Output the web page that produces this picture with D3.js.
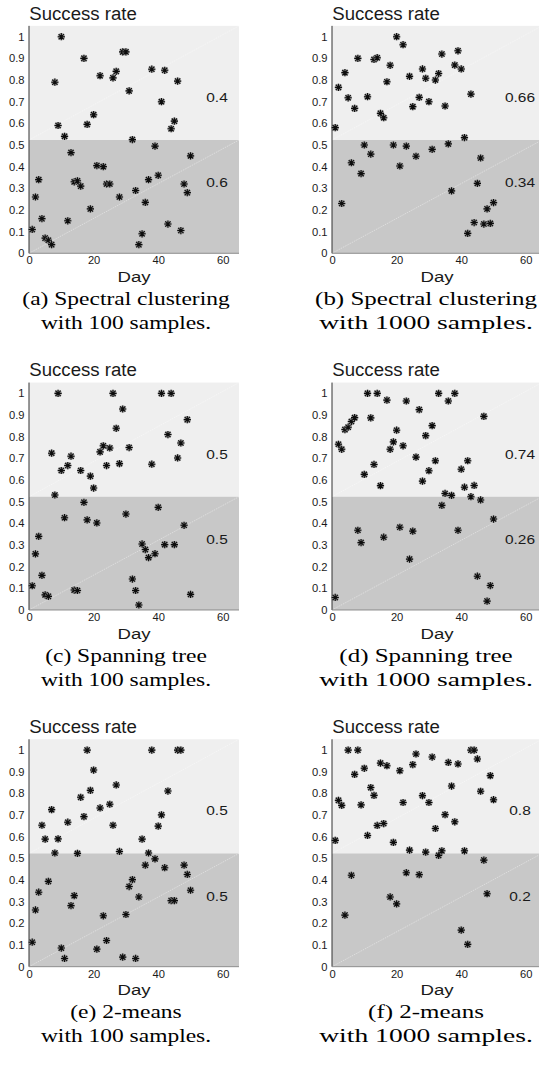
<!DOCTYPE html>
<html>
<head>
<meta charset="utf-8">
<script src="https://cdn.jsdelivr.net/npm/d3@7"></script>
<style>
  body { margin: 0; background: #fff; }
  svg { display: block; }
</style>
</head>
<body>
<svg id="fig" width="539" height="1072"></svg>
<script>
// One point per day: daily success rate for each clustering method.
const days = [1, 2, 3, 4, 5, 6, 7, 8, 9, 10, 11, 12, 13, 14, 15, 16, 17, 18, 19, 20,
  21, 22, 23, 24, 25, 26, 27, 28, 29, 30, 31, 32, 33, 34, 35, 36, 37, 38, 39, 40,
  41, 42, 43, 44, 45, 46, 47, 48, 49, 50];

const spectral100 = [0.11, 0.26, 0.34, 0.16, 0.07, 0.06, 0.04, 0.79, 0.59, 1.0,
  0.54, 0.15, 0.465, 0.33, 0.335, 0.31, 0.9, 0.595, 0.205, 0.64,
  0.405, 0.82, 0.40, 0.32, 0.32, 0.81, 0.84, 0.26, 0.93, 0.93,
  0.75, 0.525, 0.29, 0.04, 0.09, 0.235, 0.34, 0.85, 0.495, 0.36,
  0.70, 0.845, 0.135, 0.575, 0.61, 0.795, 0.105, 0.32, 0.28, 0.45];

const spectral1000 = [0.58, 0.766, 0.23, 0.834, 0.718, 0.418, 0.669, 0.90, 0.368, 0.50,
  0.723, 0.458, 0.895, 0.903, 0.646, 0.626, 0.792, 0.868, 0.50, 1.0,
  0.403, 0.963, 0.495, 0.817, 0.677, 0.448, 0.72, 0.851, 0.808, 0.70,
  0.48, 0.80, 0.83, 0.92, 0.68, 0.505, 0.288, 0.869, 0.935, 0.851,
  0.534, 0.092, 0.735, 0.142, 0.323, 0.44, 0.135, 0.205, 0.138, 0.234];

const tree100 = [0.112, 0.259, 0.34, 0.16, 0.07, 0.063, 0.724, 0.531, 1.0, 0.644,
  0.426, 0.667, 0.71, 0.092, 0.09, 0.644, 0.497, 0.416, 0.618, 0.563,
  0.402, 0.73, 0.758, 0.667, 0.748, 1.0, 0.839, 0.676, 0.928, 0.443,
  0.75, 0.143, 0.09, 0.023, 0.305, 0.279, 0.242, 0.673, 0.26, 0.474,
  1.0, 0.302, 0.81, 1.0, 0.302, 0.702, 0.771, 0.391, 0.879, 0.072];

const tree1000 = [0.058, 0.765, 0.742, 0.833, 0.844, 0.87, 0.888, 0.368, 0.311, 0.626,
  1.0, 0.887, 0.672, 1.0, 0.574, 0.336, 0.969, 0.742, 0.776, 0.83,
  0.382, 0.758, 0.965, 0.235, 0.364, 0.706, 0.925, 0.595, 0.805, 0.643,
  0.851, 0.689, 1.0, 0.483, 0.538, 0.965, 0.529, 1.0, 0.368, 0.65,
  0.567, 0.689, 0.523, 0.575, 0.156, 0.508, 0.894, 0.041, 0.113, 0.42];

const means100 = [0.113, 0.262, 0.344, 0.653, 0.589, 0.394, 0.725, 0.525, 0.59, 0.086,
  0.038, 0.667, 0.282, 0.328, 0.523, 0.782, 0.693, 1.0, 0.814, 0.908,
  0.081, 0.733, 0.235, 0.121, 0.75, 0.653, 0.839, 0.532, 0.044, 0.241,
  0.37, 0.402, 0.038, 0.322, 0.589, 0.469, 0.525, 1.0, 0.498, 0.649,
  0.701, 0.457, 0.811, 0.305, 0.305, 1.0, 1.0, 0.469, 0.426, 0.353];

const means1000 = [0.583, 0.768, 0.745, 0.238, 1.0, 0.422, 0.888, 1.0, 0.747, 0.916,
  0.606, 0.827, 0.791, 0.652, 0.94, 0.661, 0.928, 0.322, 0.574, 0.29,
  0.905, 0.758, 0.434, 0.538, 0.933, 0.982, 0.425, 0.79, 0.529, 0.758,
  0.968, 0.638, 0.514, 0.535, 0.702, 0.943, 0.834, 0.669, 0.936, 0.169,
  0.535, 0.103, 1.0, 1.0, 0.959, 0.81, 0.492, 0.337, 0.882, 0.771];

// Share of days above / below the success threshold, per panel.
const upperShares = ["0.4", "0.66", "0.5", "0.74", "0.5", "0.8"];
const lowerShares = ["0.6", "0.34", "0.5", "0.26", "0.5", "0.2"];

const captionLine1 = ["(a) Spectral clustering", "(b) Spectral clustering",
  "(c) Spanning tree", "(d) Spanning tree", "(e) 2-means", "(f) 2-means"];
const captionLine2 = ["with 100 samples.", "with 1000 samples.",
  "with 100 samples.", "with 1000 samples.", "with 100 samples.", "with 1000 samples."];

const yTicks = [0, 0.1, 0.2, 0.3, 0.4, 0.5, 0.6, 0.7, 0.8, 0.9, 1];
const yTickLabels = ["0", "0.1", "0.2", "0.3", "0.4", "0.5", "0.6", "0.7", "0.8", "0.9", "1"];
const xTicks = [0, 20, 40, 60];
const xTickLabels = ["0", "20", "40", "60"];

const series = [spectral100, spectral1000, tree100, tree1000, means100, means1000];

// ---- layout ----
const svg = d3.select("#fig");
const colLeft = [29, 332];
const captionCenter = [126, 426];
const captionStretch = [[1.27, 1.27], [1.35, 1.49]];
const rowTop = [0, 356.7, 713.4];
const plotW = 210;
const plotBottom = 253.3;
const unitY = 216.6;
const xMax = 65, yMax = 1.05;
const threshold = 0.523;
const sans = "'Liberation Sans', Arial, Helvetica, sans-serif";
const serif = "'Liberation Serif', 'Times New Roman', Times, serif";

// Text whose glyphs are widened horizontally by sx.
function wideText(g, x, y, str, o) {
  const t = g.append("text")
    .attr("transform", `translate(${x},${y}) scale(${o.sx || 1},1)`)
    .attr("font-family", o.family || sans)
    .attr("font-size", o.size)
    .attr("fill", o.fill || "#1a1a1a")
    .attr("text-anchor", o.anchor || "start")
    .text(str);
  if (o.baseline) t.attr("dominant-baseline", o.baseline);
  return t;
}

// Asterisk marker: plus sign overlaid with a diagonal cross.
const asterisk = {
  draw(ctx, size) {
    const r = Math.sqrt(size) / 2;
    const d = r * 0.74;
    ctx.moveTo(-r, 0); ctx.lineTo(r, 0);
    ctx.moveTo(0, -r); ctx.lineTo(0, r);
    ctx.moveTo(-d, -d); ctx.lineTo(d, d);
    ctx.moveTo(-d, d); ctx.lineTo(d, -d);
  }
};
const markerPath = d3.symbol(asterisk, 52)();

series.forEach((vals, i) => {
  const c = i % 2, r = Math.floor(i / 2);
  const x0 = colLeft[c];
  const g = svg.append("g").attr("transform", `translate(0,${rowTop[r]})`);

  const x = d3.scaleLinear().domain([0, xMax]).range([x0, x0 + plotW]);
  const y = d3.scaleLinear().domain([0, yMax]).range([plotBottom, plotBottom - yMax * unitY]);

  // background bands
  g.append("rect")
    .attr("x", x(0)).attr("y", y(yMax))
    .attr("width", x(xMax) - x(0)).attr("height", y(threshold) - y(yMax))
    .attr("fill", "#efefef");
  g.append("rect")
    .attr("x", x(0)).attr("y", y(threshold))
    .attr("width", x(xMax) - x(0)).attr("height", y(0) - y(threshold))
    .attr("fill", "#c8c8c8");

  // faint diagonals across each band
  [[0, threshold], [threshold, yMax]].forEach(([lo, hi]) => {
    g.append("line")
      .attr("x1", x(0)).attr("y1", y(lo))
      .attr("x2", x(xMax)).attr("y2", y(hi))
      .attr("stroke", "#ffffff").attr("stroke-opacity", 0.55)
      .attr("stroke-width", 0.7).attr("stroke-dasharray", "1.5,1");
  });

  // axes
  const yAxis = g.append("g").attr("transform", `translate(${x(0)},0)`)
    .call(d3.axisLeft(y).tickValues(yTicks).tickSize(0).tickPadding(0)
      .tickFormat((d, k) => yTickLabels[k]));
  yAxis.select(".domain").attr("stroke", "#333").attr("stroke-width", 1)
    .attr("d", `M0,${y(0)}V${y(yMax)}`);
  yAxis.selectAll("text")
    .attr("font-family", sans).attr("font-size", 10).attr("fill", "#1a1a1a")
    .attr("x", -4.5 / 1.12).attr("dy", "0.35em")
    .attr("transform", "scale(1.12,1)");

  const xAxis = g.append("g").attr("transform", `translate(0,${y(0)})`)
    .call(d3.axisBottom(x).tickValues(xTicks).tickSize(0).tickPadding(0)
      .tickFormat((d, k) => xTickLabels[k]));
  xAxis.select(".domain").attr("stroke", "#777").attr("stroke-width", 0.8)
    .attr("d", `M${x(0)},0H${x(xMax)}`);
  xAxis.selectAll("text")
    .attr("font-family", sans).attr("font-size", 10).attr("fill", "#1a1a1a")
    .attr("y", 4).attr("dy", "0.71em")
    .attr("transform", "scale(1.12,1)");

  // markers
  g.append("g").selectAll("g.pt").data(days.map((d, k) => [d, vals[k]]))
    .join("g").attr("class", "pt")
    .attr("transform", d => `translate(${x(d[0])},${y(d[1])})`)
    .each(function () {
      const m = d3.select(this);
      m.append("path").attr("d", markerPath)
        .attr("stroke", "#8a8a8a").attr("stroke-opacity", 0.75)
        .attr("stroke-width", 2.4).attr("fill", "none");
      m.append("path").attr("d", markerPath)
        .attr("stroke", "#0d0d0d").attr("stroke-width", 1.1).attr("fill", "none");
    });

  // band shares
  wideText(g, x0 + 188, y(0.72), upperShares[i], { size: 13, sx: 1.19, anchor: "middle", baseline: "central" });
  wideText(g, x0 + 188, y(0.325), lowerShares[i], { size: 13, sx: 1.19, anchor: "middle", baseline: "central" });

  // axis titles
  wideText(g, x0 + 0.3, 19.5, "Success rate", { size: 19, sx: 0.98 });
  wideText(g, x0 + plotW / 2, 282, "Day", { size: 15.5, sx: 1.2, anchor: "middle" });

  // caption
  const cs = captionStretch[c];
  wideText(g, captionCenter[c], 305, captionLine1[i], { size: 18.5, sx: cs[0], anchor: "middle", family: serif, fill: "#000" });
  wideText(g, captionCenter[c], 329, captionLine2[i], { size: 18.5, sx: cs[1], anchor: "middle", family: serif, fill: "#000" });
});
</script>
</body>
</html>
